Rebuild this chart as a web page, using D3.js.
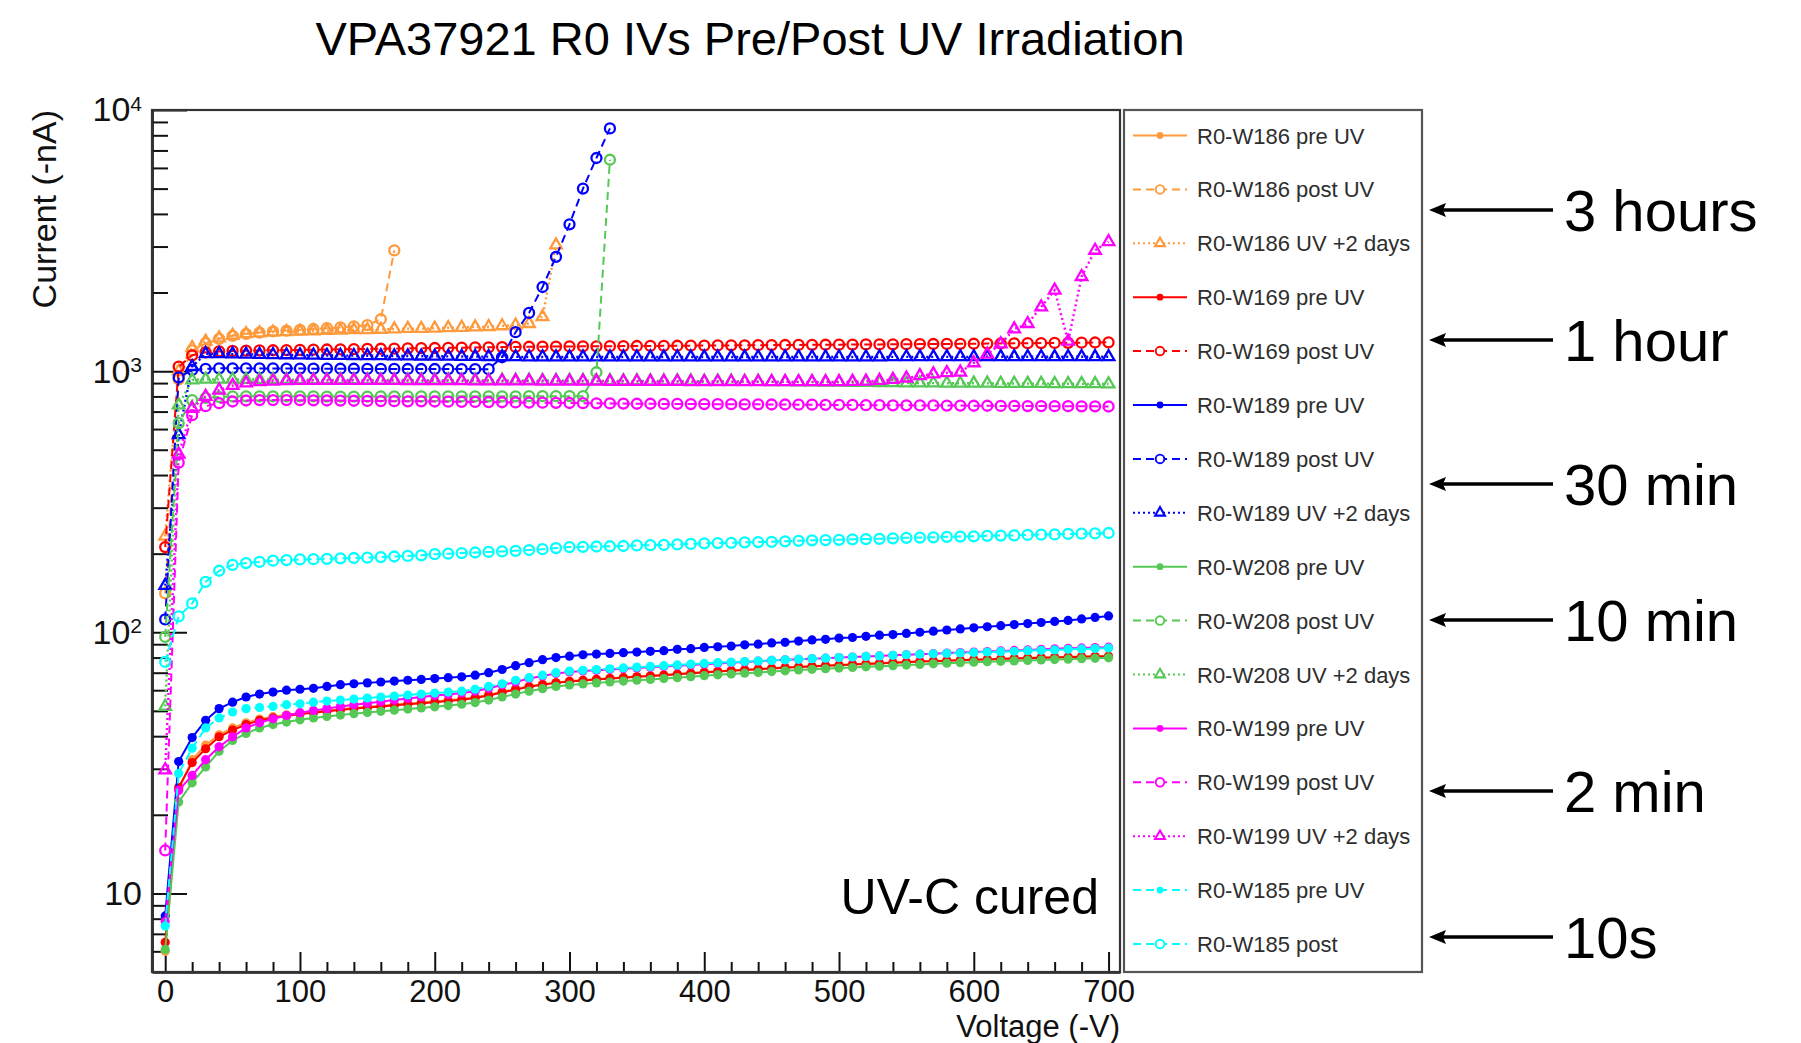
<!DOCTYPE html>
<html><head><meta charset="utf-8">
<script src="https://cdn.jsdelivr.net/npm/d3@7"></script>
<style>
html,body{margin:0;padding:0;background:#fff;}
svg{display:block;font-family:"Liberation Sans",Arial,Helvetica,sans-serif;}
</style></head><body>
<svg id="chart" width="1801" height="1043"></svg>
<script>
// ---------------- DATA ----------------
const voltage = [
  0,10,20,30,40,50,60,70,80,90,
  100,110,120,130,140,150,160,170,180,190,
  200,210,220,230,240,250,260,270,280,290,
  300,310,320,330,340,350,360,370,380,390,
  400,410,420,430,440,450,460,470,480,490,
  500,510,520,530,540,550,560,570,580,590,
  600,610,620,630,640,650,660,670,680,690,
  700];

const w186Pre = [
  6.0,25.0,32.5,37.0,40.5,43.0,45.0,46.5,47.5,48.3,
  49.0,49.6,50.2,50.8,51.3,51.8,52.3,52.8,53.3,53.8,
  54.3,54.9,55.5,56.4,57.7,59.2,60.7,62.1,63.3,64.2,
  65.0,65.6,66.2,66.7,67.2,67.7,68.2,68.7,69.2,69.8,
  70.4,70.9,71.4,71.9,72.4,72.9,73.4,73.8,74.2,74.6,
  75.0,75.4,75.8,76.2,76.6,77.0,77.4,77.7,78.0,78.3,
  78.6,78.9,79.2,79.5,79.8,80.1,80.3,80.5,80.7,80.9,
  81.1];
const w186Post = [
  141,930,1200,1280,1330,1365,1390,1405,1420,1430,
  1440,1450,1460,1470,1485,1500,1580,2900];
const w186Day2 = [
  233,1000,1230,1300,1340,1370,1390,1400,1410,1415,
  1420,1425,1430,1435,1440,1440,1445,1450,1455,1455,
  1460,1465,1470,1475,1480,1490,1500,1520,1615,3040];

const w169Pre = [
  6.5,25.5,31.7,35.8,39.8,42.2,44.3,46.0,47.0,47.8,
  48.6,49.2,49.8,50.4,51.0,51.5,52.0,52.5,53.0,53.5,
  54.0,54.6,55.2,56.0,57.3,58.8,60.3,61.8,63.0,64.0,
  64.8,65.4,66.0,66.5,67.0,67.5,68.0,68.5,69.0,69.6,
  70.2,70.7,71.2,71.7,72.2,72.7,73.2,73.6,74.0,74.4,
  74.8,75.2,75.6,76.0,76.4,76.8,77.2,77.5,77.8,78.1,
  78.4,78.7,79.0,79.3,79.6,79.9,80.1,80.3,80.5,80.7,
  80.9];
const w169Post = [
  212,1040,1150,1180,1190,1195,1198,1200,1202,1204,
  1206,1208,1210,1212,1214,1216,1218,1220,1222,1224,
  1226,1228,1230,1232,1234,1236,1238,1240,1241,1242,
  1243,1244,1245,1246,1247,1248,1249,1250,1251,1252,
  1253,1254,1255,1256,1257,1258,1259,1260,1261,1262,
  1263,1264,1265,1266,1267,1268,1269,1270,1271,1272,
  1273,1275,1276,1278,1279,1281,1282,1284,1285,1287,
  1289];

const w189Pre = [
  8.2,32.0,39.5,46.0,51.0,54.0,56.5,58.0,59.0,60.0,
  60.5,61.0,62.0,63.0,63.5,64.0,64.5,65.0,65.5,66.0,
  66.5,67.0,67.5,68.5,70.0,72.0,74.5,76.5,78.5,80.0,
  81.0,82.0,82.5,83.0,83.5,84.0,84.5,85.0,86.0,86.5,
  87.5,88.0,88.5,89.5,90.0,91.0,91.5,92.5,93.5,94.0,
  95.0,95.5,96.5,97.5,98.0,99.0,100.0,101.0,102.0,103.0,
  104.0,105.0,106.0,107.0,108.0,109.0,110.0,111.0,112.5,114.0,
  115.5];
const w189Post = [
  112,946,1010,1020,1025,1025,1025,1024,1024,1023,
  1023,1022,1022,1021,1021,1020,1020,1020,1019,1019,
  1019,1018,1018,1018,1017,1130,1410,1670,2100,2740,
  3650,5000,6550,8500];
const w189Day2 = [
  151,570,1040,1165,1165,1162,1160,1158,1156,1154,
  1152,1150,1148,1147,1146,1145,1144,1143,1142,1141,
  1140,1139,1138,1137,1136,1135,1134,1133,1133,1132,
  1132,1132,1132,1132,1132,1132,1132,1132,1132,1132,
  1132,1132,1132,1132,1133,1133,1133,1133,1133,1133,
  1133,1133,1133,1133,1134,1134,1134,1134,1134,1134,
  1134,1134,1135,1135,1135,1135,1135,1135,1135,1135,
  1135];

const w208Pre = [
  6.1,22.4,26.5,30.5,35.0,38.5,41.0,43.0,44.3,45.3,
  46.2,47.0,47.6,48.2,48.8,49.3,49.8,50.3,50.8,51.3,
  51.8,52.4,53.0,53.8,55.0,56.5,58.0,59.5,60.8,62.0,
  62.8,63.4,64.0,64.5,65.0,65.5,66.0,66.5,67.0,67.6,
  68.2,68.7,69.2,69.7,70.2,70.7,71.2,71.7,72.1,72.5,
  72.9,73.3,73.7,74.1,74.5,74.9,75.3,75.7,76.1,76.5,
  76.8,77.1,77.4,77.7,78.0,78.3,78.6,78.9,79.2,79.5,
  79.8];
const w208Post = [
  96,632,774,790,796,800,801,801,800,800,
  800,800,799,799,799,799,800,800,800,800,
  800,800,801,801,801,801,801,802,802,802,
  802,802,990,6450];
const w208Day2 = [
  52,741,925,930,930,930,929,929,928,928,
  927,927,926,926,926,925,925,925,925,924,
  924,924,923,923,923,922,922,922,921,921,
  920,920,919,919,918,918,917,917,916,916,
  915,915,914,913,912,911,910,909,908,907,
  906,905,904,903,902,901,900,900,899,899,
  898,898,897,897,896,896,895,895,894,894,
  893];

const w199Pre = [
  7.8,24.8,28.3,32.5,36.4,39.8,43.0,45.0,46.6,48.0,
  49.2,50.2,51.0,52.0,52.8,53.5,54.2,55.0,55.8,56.5,
  57.2,57.8,58.5,59.5,61.0,62.8,64.5,66.5,68.0,69.5,
  70.5,71.0,71.5,72.0,72.5,73.0,73.5,74.0,74.5,75.0,
  75.5,76.0,76.5,77.0,77.5,78.0,78.4,78.8,79.2,79.6,
  80.0,80.4,80.8,81.2,81.6,82.0,82.4,82.8,83.2,83.6,
  84.0,84.4,84.8,85.2,85.6,86.0,86.4,86.8,87.1,87.4,
  87.7];
const w199Post = [
  14.6,446,678,734,754,765,772,775,775,775,
  774,773,772,771,770,769,768,767,766,766,
  765,764,763,762,761,760,759,758,757,756,
  755,754,753,752,751,750,750,749,749,748,
  748,747,747,746,746,745,745,744,744,743,
  742,742,741,741,740,740,739,739,738,738,
  737,737,736,736,735,735,734,734,733,733,
  732];
const w199Day2 = [
  29.7,480,720,800,845,880,900,910,915,918,
  920,921,921,921,921,920,920,920,919,919,
  918,918,918,917,917,917,916,916,915,915,
  914,914,914,913,913,913,912,912,912,911,
  911,911,911,911,910,910,910,910,910,910,
  910,912,915,920,928,940,960,975,985,990,
  1075,1160,1270,1450,1520,1760,2040,1300,2300,2900,
  3130];

const w185Pre = [
  7.5,28.8,36.0,43.0,47.0,49.5,51.0,51.5,52.0,52.8,
  53.2,54.0,54.5,55.0,55.5,56.0,56.5,57.0,57.5,58.0,
  58.5,59.0,59.5,60.5,62.0,63.5,65.5,67.0,68.5,70.0,
  71.0,71.5,72.0,72.5,73.0,73.5,74.0,74.5,75.0,75.5,
  76.0,76.5,76.8,77.2,77.6,78.0,78.4,78.8,79.2,79.6,
  80.0,80.4,80.8,81.2,81.6,82.0,82.4,82.7,83.0,83.3,
  83.6,84.0,84.3,84.6,85.0,85.3,85.6,86.0,86.3,86.6,
  87.0];
const w185Post = [
  77,115,129,156,172,181,184,186,188,189,
  190,190.5,191,192,192.5,193,194,195,196,197,
  199,200,201,202,203,204,205,206.5,208,210,
  212,212.5,213,213.5,214,215,215.5,216,217,218,
  219,219.5,220,221,221.5,222,223,224,225,225.5,
  226,227,227.5,228,229,230,230.5,231,232,232.5,
  233,234,234.5,235,236,236.5,237,238,238.5,239,
  240];

const seriesNames = [
  "R0-W186 pre UV","R0-W186 post UV","R0-W186 UV +2 days",
  "R0-W169 pre UV","R0-W169 post UV",
  "R0-W189 pre UV","R0-W189 post UV","R0-W189 UV +2 days",
  "R0-W208 pre UV","R0-W208 post UV","R0-W208 UV +2 days",
  "R0-W199 pre UV","R0-W199 post UV","R0-W199 UV +2 days",
  "R0-W185 pre UV","R0-W185 post"];
const seriesValues = [
  w186Pre,w186Post,w186Day2,
  w169Pre,w169Post,
  w189Pre,w189Post,w189Day2,
  w208Pre,w208Post,w208Day2,
  w199Pre,w199Post,w199Day2,
  w185Pre,w185Post];

const xTickValues = [0,100,200,300,400,500,600,700];
const yTickValues = [10,100,1000,10000];
const annotationLabels = ["3 hours","1 hour","30 min","10 min","2 min","10s"];

// ---------------- STYLE ----------------
const ORANGE="#ff9a3c", RED="#ff0000", BLUE="#0000ff", GREEN="#55c855", MAGENTA="#ff00ff", CYAN="#00ffff";
const seriesColors = [ORANGE,ORANGE,ORANGE,RED,RED,BLUE,BLUE,BLUE,GREEN,GREEN,GREEN,MAGENTA,MAGENTA,MAGENTA,CYAN,CYAN];
// line: s=solid, d=dashed, o=dotted ; marker: f=filled dot, c=open circle, t=open triangle
const seriesLine   = ["s","d","o","s","d","s","d","o","s","d","o","s","d","o","d","d"];
const seriesMarker = ["f","c","t","f","c","f","c","t","f","c","t","f","c","t","f","c"];
const dashFor = {s:null, d:"8 5", o:"2 3"};
const annotationY = [210,340,484,620,791,937];

const series = seriesNames.map((n,i)=>({
  name:n, color:seriesColors[i], line:seriesLine[i], marker:seriesMarker[i],
  points: seriesValues[i].map((v,j)=>({v:voltage[j], i:v}))
}));

// ---------------- CHART ----------------
const svg = d3.select("#chart");
const L=152, R=1120, T=110, B=972;
const x = d3.scaleLinear().domain([-9.8,708.5]).range([L,R]);
const y = d3.scaleLog().domain([5,10000]).range([B,T]);

svg.append("rect").attr("width",1801).attr("height",1043).attr("fill","#fff");

// title
svg.append("text").attr("x",750).attr("y",55).attr("text-anchor","middle")
  .attr("font-size",47).attr("fill","#000").text("VPA37921 R0 IVs Pre/Post UV Irradiation");

svg.append("defs").append("clipPath").attr("id","clip")
  .append("rect").attr("x",L).attr("y",T).attr("width",R-L).attr("height",B-T);

// axes
const xMinor = [];
for (const v of voltage) if (v%20===0 && v%100!==0) xMinor.push(v);
const yMinor = [6,7,8,9,20,30,40,50,60,70,80,90,200,300,400,500,600,700,800,900,2000,3000,4000,5000,6000,7000,8000,9000];

const gxMinor = svg.append("g").attr("transform",`translate(0,${B})`)
  .call(d3.axisBottom(x).tickValues(xMinor).tickSize(-10).tickSizeOuter(0).tickFormat(""));
const gx = svg.append("g").attr("transform",`translate(0,${B})`)
  .call(d3.axisBottom(x).tickValues(xTickValues).tickSize(-20).tickSizeOuter(0).tickPadding(8).tickFormat(d3.format("d")));
const gyMinor = svg.append("g").attr("transform",`translate(${L},0)`)
  .call(d3.axisLeft(y).tickValues(yMinor).tickSize(-16).tickSizeOuter(0).tickFormat(""));
const gy = svg.append("g").attr("transform",`translate(${L},0)`)
  .call(d3.axisLeft(y).tickValues(yTickValues).tickSize(-35).tickSizeOuter(0).tickPadding(10).tickFormat(()=>""));

[gxMinor,gx,gyMinor,gy].forEach(g=>{
  g.selectAll(".tick line").attr("stroke","#111").attr("stroke-width",2);
  g.select(".domain").attr("stroke","#111").attr("stroke-width",2.2);
});
gx.selectAll(".tick text").attr("font-size",31).attr("fill","#111").attr("font-family","Liberation Sans, Arial, sans-serif");
gy.selectAll(".tick text").each(function(d){
  const e = Math.round(Math.log10(d));
  const t = d3.select(this).attr("font-size",34).attr("fill","#111").attr("font-family","Liberation Sans, Arial, sans-serif");
  t.text(null);
  t.append("tspan").text("10");
  if (e!==1) t.append("tspan").attr("dy","-0.5em").attr("font-size",21).text(e);
});

// frame
svg.append("rect").attr("x",L).attr("y",T).attr("width",R-L).attr("height",B-T)
  .attr("fill","none").attr("stroke","#333").attr("stroke-width",2.2);

// axis titles
svg.append("text").attr("transform",`translate(56,${T}) rotate(-90)`).attr("text-anchor","end")
  .attr("font-size",34).attr("fill","#111").text("Current (-nA)");
svg.append("text").attr("x",R).attr("y",1037).attr("text-anchor","end")
  .attr("font-size",31).attr("fill","#111").text("Voltage (-V)");

// series
const plot = svg.append("g").attr("clip-path","url(#clip)");
const lineGen = d3.line().x(d=>x(d.v)).y(d=>y(d.i));
const triPath = d3.symbol().type(d3.symbolTriangle).size(58)();
const triPathSmall = d3.symbol().type(d3.symbolTriangle).size(42)();

series.forEach(s=>{
  const g = plot.append("g");
  g.append("path").datum(s.points).attr("d",lineGen).attr("fill","none")
    .attr("stroke",s.color).attr("stroke-width",s.line==="o"?2.4:2)
    .attr("stroke-dasharray",dashFor[s.line]);
  const m = g.selectAll(".m").data(s.points).enter();
  if (s.marker==="f") {
    m.append("circle").attr("cx",d=>x(d.v)).attr("cy",d=>y(d.i)).attr("r",4.6).attr("fill",s.color);
  } else if (s.marker==="c") {
    m.append("circle").attr("cx",d=>x(d.v)).attr("cy",d=>y(d.i)).attr("r",5)
      .attr("fill","none").attr("stroke",s.color).attr("stroke-width",2.3);
  } else {
    m.append("path").attr("d",triPath).attr("transform",d=>`translate(${x(d.v)},${y(d.i)})`)
      .attr("fill","none").attr("stroke",s.color).attr("stroke-width",2.3);
  }
});

// "UV-C cured"
svg.append("text").attr("x",1099).attr("y",914).attr("text-anchor","end")
  .attr("font-size",50).attr("fill","#000").text("UV-C cured");

// legend
const LX=1124, LW=298;
svg.append("rect").attr("x",LX).attr("y",T).attr("width",LW).attr("height",B-T)
  .attr("fill","#fff").attr("stroke","#555").attr("stroke-width",2.2);
series.forEach((s,i)=>{
  const cy = 135.5 + i*53.9;
  const g = svg.append("g");
  g.append("line").attr("x1",1133).attr("x2",1187).attr("y1",cy).attr("y2",cy)
    .attr("stroke",s.color).attr("stroke-width",2).attr("stroke-dasharray",dashFor[s.line]);
  if (s.marker==="f") g.append("circle").attr("cx",1160).attr("cy",cy).attr("r",3.4).attr("fill",s.color);
  else if (s.marker==="c") g.append("circle").attr("cx",1160).attr("cy",cy).attr("r",4.3)
      .attr("fill","#fff").attr("stroke",s.color).attr("stroke-width",1.9);
  else g.append("path").attr("d",triPathSmall).attr("transform",`translate(1160,${cy})`)
      .attr("fill","#fff").attr("stroke",s.color).attr("stroke-width",2.1);
  g.append("text").attr("x",1197).attr("y",cy+8).attr("font-size",22).attr("fill","#2e2e2e").text(s.name);
});

// right-hand annotations
annotationLabels.forEach((lab,i)=>{
  const ay = annotationY[i];
  svg.append("line").attr("x1",1440).attr("x2",1553).attr("y1",ay).attr("y2",ay)
    .attr("stroke","#000").attr("stroke-width",3.5);
  svg.append("path").attr("d",`M1429,${ay} L1446,${ay-7} L1443,${ay} L1446,${ay+7} Z`).attr("fill","#000");
  svg.append("text").attr("x",1564).attr("y",ay+21).attr("font-size",58).attr("fill","#000").text(lab);
});
</script>
</body></html>
